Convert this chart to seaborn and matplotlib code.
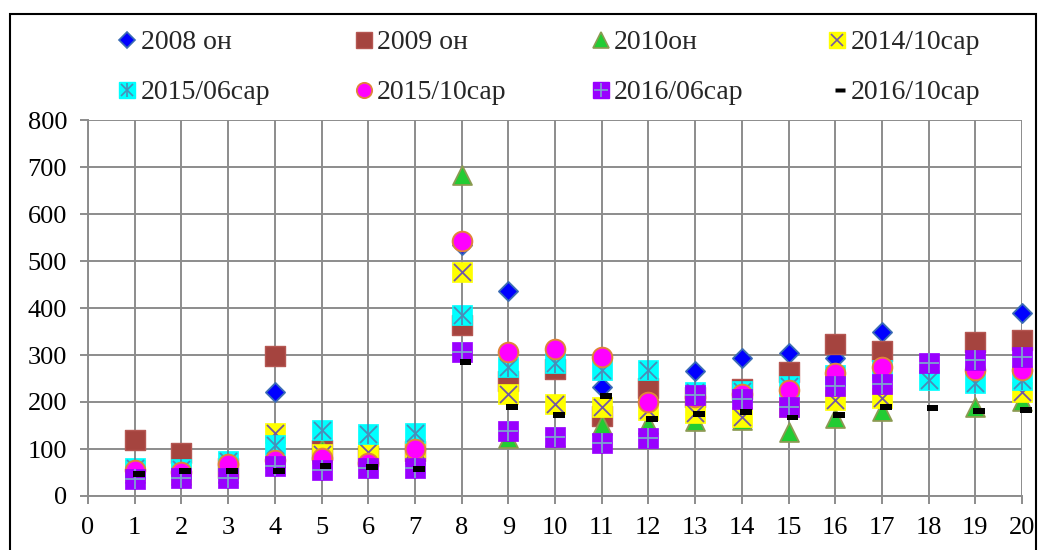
import numpy as np
import matplotlib
matplotlib.use("Agg")
import matplotlib.pyplot as plt
from matplotlib.lines import Line2D
from matplotlib.markers import MarkerStyle
from matplotlib.path import Path
from matplotlib.patches import Rectangle
import seaborn as sns

nan = np.nan

# x positions (1..20) and the eight series
x = list(range(1, 21))
s2008 = [50, 45, 45, 221, 80, 75, 90, 535, 436, 280, 232, 210, 266, 294, 304, 294, 349, nan, nan, 390]
s2009 = [120, 92, 60, 297, 98, 85, 95, 363, 245, 270, 170, 230, 210, 228, 264, 323, 309, nan, 328, 332]
s2010 = [50, 45, 50, 80, 100, 87, 90, 683, 123, 125, 151, 153, 160, 162, 137, 166, 181, nan, 190, 202]
s2014_10 = [55, 50, 60, 134, 90, 93, 100, 476, 217, 196, 190, 183, 176, 168, 190, 204, 208, nan, nan, 221]
s2015_06 = [60, 58, 75, 108, 140, 132, 134, 385, 275, 283, 268, 268, 222, 224, 235, 258, 268, 247, 240, 247]
s2015_10 = [55, 52, 68, 77, 80, 70, 100, 542, 306, 312, 296, 200, 210, 218, 226, 262, 275, nan, 268, 268]
s2016_06 = [36, 38, 38, 64, 55, 60, 60, 306, 138, 125, 113, 123, 215, 206, 189, 234, 238, 283, 289, 296]
s2016_10 = [47, 53, 53, 53, 63, 62, 57, 285, 190, 173, 213, 164, 175, 179, 167, 172, 190, 187, 181, 183]

labels = ["2008 он", "2009 он", "2010он", "2014/10сар",
          "2015/06сар", "2015/10сар", "2016/06сар", "2016/10сар"]
xticks = list(range(0, 21))
yticks = list(range(0, 801, 100))

sns.set_theme(style="white")
plt.rcParams["font.family"] = ["Liberation Serif", "DejaVu Serif"]

fig = plt.figure(figsize=(10.42, 5.5), dpi=100)
ax = fig.add_axes([88 / 1042, 1 - 496 / 550, (1022 - 88) / 1042, (496 - 120) / 550])

# short black dash marker, drawn a little right of centre
dash = MarkerStyle(Path([(-0.2, -0.3), (1.0, -0.3), (1.0, 0.3), (-0.2, 0.3), (-0.2, -0.3)],
                        [1, 2, 2, 2, 79]))

common = dict(ax=ax, legend=False, clip_on=False)

def pts(y, **kw):
    sns.scatterplot(x=x, y=y, **common, **kw)

pts(s2008, marker="D", s=95, color="#0000ff", edgecolor="#3b6db5", linewidth=1.3)
pts(s2009, marker="s", s=205, color="#a5443f", edgecolor="#b55752", linewidth=1.0)
pts(s2010, marker="^", s=185, color="#22cc33", edgecolor="#8c9a52", linewidth=1.3)
pts(s2014_10, marker="s", s=205, color="#ffff00", edgecolor="#ffff00", linewidth=0.5)
pts(s2014_10, marker="x", s=150, color="#7358a3", linewidth=1.3)
pts(s2015_06, marker="s", s=205, color="#00ffff", edgecolor="#00ffff", linewidth=0.5)
pts(s2015_06, marker="x", s=150, color="#4a8db8", linewidth=1.3)
pts(s2015_06, marker="|", s=190, color="#4a8db8", linewidth=1.3)
pts(s2015_10, marker="o", s=200, color="#ff00ff", edgecolor="#e0843a", linewidth=1.4)
pts(s2016_06, marker="s", s=205, color="#9900ff", edgecolor="#9900ff", linewidth=0.5)
pts(s2016_06, marker="+", s=190, color="#7ea2cf", linewidth=1.3)
pts(s2016_10, marker=dash, s=200, color="black", edgecolor="none")

ax.set_xlim(0, 20)
ax.set_ylim(0, 800)
ax.set_xticks(xticks)
ax.set_yticks(yticks)
ax.set_xticklabels([str(t) for t in xticks])
ax.set_yticklabels([str(t) for t in yticks])
ax.grid(True, color="#8c8c8c", linewidth=1.4)
ax.set_axisbelow(True)
for side in ["top", "right"]:
    ax.spines[side].set_visible(False)
for side in ["left", "bottom"]:
    ax.spines[side].set_color("#8c8c8c")
    ax.spines[side].set_linewidth(1.4)
ax.tick_params(axis="both", direction="out", length=6, width=1.4, color="#8c8c8c",
               labelsize=19, labelcolor="black", pad=9, left=True, bottom=True)
ax.set_xlabel("")
ax.set_ylabel("")

# legend handles (composite markers)
def mk(marker, size, face, edge, lw=1.0):
    return Line2D([], [], linestyle="none", marker=marker, markersize=size,
                  markerfacecolor=face, markeredgecolor=edge, markeredgewidth=lw)

h = [
    mk("D", 8, "#0000ff", "#3b6db5", 1.2),
    mk("s", 11, "#a5443f", "#b55752"),
    mk("^", 11, "#22cc33", "#8c9a52", 1.2),
    (mk("s", 11, "#ffff00", "#ffff00"), mk("x", 9, "none", "#7358a3", 1.2)),
    (mk("s", 11, "#00ffff", "#00ffff"), mk("x", 9, "none", "#4a8db8", 1.2),
     mk("|", 10, "none", "#4a8db8", 1.2)),
    mk("o", 11, "#ff00ff", "#e0843a", 1.3),
    (mk("s", 11, "#9900ff", "#9900ff"), mk("+", 10, "none", "#7ea2cf", 1.2)),
    mk(dash, 11, "black", "none"),
]
order = [0, 4, 1, 5, 2, 6, 3, 7]
fig.legend([h[i] for i in order], [labels[i] for i in order], ncol=4,
           loc="upper left", bbox_to_anchor=(117 / 1042, 1 - 30 / 550),
           frameon=False, fontsize=20, handlelength=0.75, handletextpad=0.1,
           columnspacing=3.0, labelspacing=0.88, borderpad=0, borderaxespad=0)

# outer frame
fig.patches.append(Rectangle((10 / 1042, -0.1), (1036 - 10) / 1042, 1.1 - 14 / 550,
                             transform=fig.transFigure, fill=False,
                             edgecolor="black", linewidth=1.5, clip_on=False))

fig.savefig("out.png", dpi=100)
